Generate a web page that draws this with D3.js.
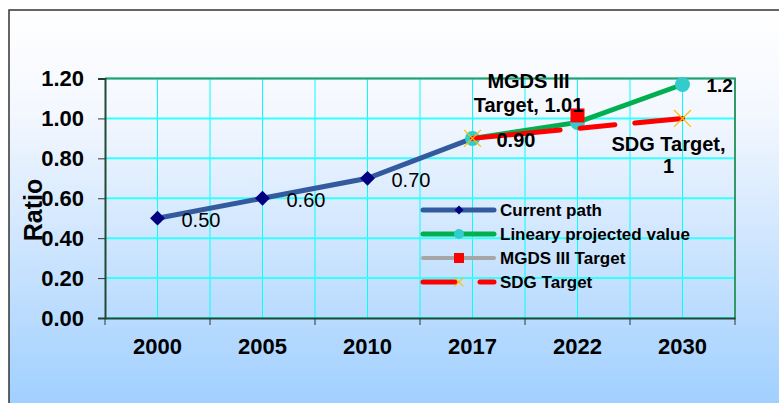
<!DOCTYPE html>
<html>
<head>
<meta charset="utf-8">
<script src="https://cdn.jsdelivr.net/npm/d3@7"></script>
<style>
  body { margin: 0; background: #fff; }
  svg { display: block; font-family: "Liberation Sans", Arial, sans-serif; }
</style>
</head>
<body>
<div id="chart"></div>
<script>
// chart values
var years = ["2000", "2005", "2010", "2017", "2022", "2030"];
var currentPath = [0.50, 0.60, 0.70, 0.90, null, null];
var projected = [null, null, null, 0.90, 0.98, 1.17];
var mgdsTarget = [null, null, null, null, 1.01, null];
var sdgTarget = [null, null, null, 0.90, null, 1.00];
var yTicks = [0, 0.2, 0.4, 0.6, 0.8, 1.0, 1.2];
var seriesNames = ["Current path", "Lineary projected value", "MGDS III Target", "SDG Target"];

var width = 779, height = 403;

var x = d3.scaleBand().domain(years).range([105, 735]).padding(0);
var y = d3.scaleLinear().domain([0, 1.2]).range([318, 78.5]);

var svg = d3.select("#chart").append("svg")
    .attr("width", width)
    .attr("height", height);

var defs = svg.append("defs");
var grad = defs.append("linearGradient")
    .attr("id", "bg").attr("x1", 0).attr("y1", 0).attr("x2", 0).attr("y2", 1);
grad.append("stop").attr("offset", "0%").attr("stop-color", "#ffffff");
grad.append("stop").attr("offset", "25%").attr("stop-color", "#f3f7fe");
grad.append("stop").attr("offset", "100%").attr("stop-color", "#99ccff");

// chart area with border
svg.append("rect")
    .attr("x", 9).attr("y", 10)
    .attr("width", 800).attr("height", 420)
    .attr("fill", "url(#bg)")
    .attr("stroke", "#333").attr("stroke-width", 1.5);

// vertical grid: band centres and edges
var vLines = [];
years.forEach(function (d) {
    vLines.push(x(d) + x.bandwidth() / 2);
    vLines.push(x(d) + x.bandwidth());
});
svg.append("g").selectAll("line")
    .data(vLines)
    .enter().append("line")
    .attr("x1", function (d) { return d; })
    .attr("x2", function (d) { return d; })
    .attr("y1", y(1.2)).attr("y2", y(0))
    .attr("stroke", "#00ffff").attr("stroke-width", 1);

// horizontal grid
svg.append("g").selectAll("line")
    .data(yTicks)
    .enter().append("line")
    .attr("x1", 105).attr("x2", 735)
    .attr("y1", function (d) { return y(d); })
    .attr("y2", function (d) { return y(d); })
    .attr("stroke", "#33ffff").attr("stroke-width", 2);

// plot border (top, right)
svg.append("path")
    .attr("d", "M105," + y(1.2) + "H735V" + y(0))
    .attr("fill", "none").attr("stroke", "#339966").attr("stroke-width", 2);

// axes
var yAxis = d3.axisLeft(y).tickValues(yTicks).tickFormat(d3.format(".2f")).tickSize(7).tickPadding(14);
var gy = svg.append("g").attr("transform", "translate(105,0)").call(yAxis);
gy.select(".domain").attr("stroke", "#1f4a33").attr("stroke-width", 2);
gy.selectAll(".tick line").attr("stroke", "#333");
gy.selectAll(".tick text")
    .attr("font-size", 22).attr("font-weight", "bold").attr("fill", "#000")
    .attr("font-family", "Liberation Sans, Arial, sans-serif");

var xAxis = d3.axisBottom(x).tickSize(0).tickPadding(20);
var gx = svg.append("g").attr("transform", "translate(0," + y(0) + ")").call(xAxis);
gx.select(".domain").attr("stroke", "#1f4a33").attr("stroke-width", 2);
gx.selectAll(".tick text")
    .attr("font-size", 22).attr("font-weight", "bold").attr("fill", "#000")
    .attr("font-family", "Liberation Sans, Arial, sans-serif");
// x tick marks at band edges
svg.append("g").selectAll("line")
    .data([years[0]].concat(years))
    .enter().append("line")
    .attr("x1", function (d, i) { return i == 0 ? x(d) : x(d) + x.bandwidth(); })
    .attr("x2", function (d, i) { return i == 0 ? x(d) : x(d) + x.bandwidth(); })
    .attr("y1", y(0)).attr("y2", y(0) + 7)
    .attr("stroke", "#333");

svg.append("text")
    .attr("transform", "translate(42,210) rotate(-90)")
    .attr("text-anchor", "middle")
    .attr("font-size", 25).attr("font-weight", "bold")
    .text("Ratio");

function cx(i) { return x(years[i]) + x.bandwidth() / 2; }

function pts(arr) {
    return arr.map(function (v, i) { return { i: i, v: v }; })
        .filter(function (d) { return d.v != null; });
}

var line = d3.line()
    .x(function (d) { return cx(d.i); })
    .y(function (d) { return y(d.v); });

// Current path
svg.append("path").datum(pts(currentPath))
    .attr("d", line).attr("fill", "none")
    .attr("stroke", "#335a9e").attr("stroke-width", 5).attr("stroke-linecap", "round");
svg.append("g").selectAll("path")
    .data(pts(currentPath))
    .enter().append("path")
    .attr("d", d3.symbol(d3.symbolSquare, 110))
    .attr("transform", function (d) { return "translate(" + cx(d.i) + "," + y(d.v) + ") rotate(45)"; })
    .attr("fill", "#000080");

// Lineary projected value
svg.append("path").datum(pts(projected))
    .attr("d", line).attr("fill", "none")
    .attr("stroke", "#00b050").attr("stroke-width", 5).attr("stroke-linecap", "round");
svg.append("g").selectAll("circle")
    .data(pts(projected))
    .enter().append("circle")
    .attr("cx", function (d) { return cx(d.i); })
    .attr("cy", function (d) { return y(d.v); })
    .attr("r", 7.5)
    .attr("fill", "#33cccc");

// MGDS III Target
svg.append("g").selectAll("rect")
    .data(pts(mgdsTarget))
    .enter().append("rect")
    .attr("x", function (d) { return cx(d.i) - 7; })
    .attr("y", function (d) { return y(d.v) - 8; })
    .attr("width", 14).attr("height", 14)
    .attr("fill", "#ff0000");

// SDG Target
svg.append("path").datum(pts(sdgTarget))
    .attr("d", line).attr("fill", "none")
    .attr("stroke", "#ff0000").attr("stroke-width", 5).attr("stroke-linecap", "round")
    .attr("stroke-dasharray", "88,20,35,20,60");
var xs = d3.symbol(d3.symbolX, 190);
svg.append("g").selectAll("path")
    .data(pts(sdgTarget))
    .enter().append("path")
    .attr("d", xs)
    .attr("transform", function (d) { return "translate(" + cx(d.i) + "," + y(d.v) + ")"; })
    .attr("fill", "none").attr("stroke", "#ffc000").attr("stroke-width", 1.3);

// data labels
var lbl = svg.append("g").attr("font-size", 20);
pts(currentPath).forEach(function (d) {
    lbl.append("text")
        .attr("x", cx(d.i) + 24).attr("y", y(d.v) + 9)
        .attr("font-weight", d.i == 3 ? "bold" : "normal")
        .text(d3.format(".2f")(d.v));
});
var pLast = pts(projected).slice(-1)[0];
lbl.append("text")
    .attr("x", cx(pLast.i) + 24).attr("y", y(pLast.v) + 8)
    .attr("font-size", 19).attr("font-weight", "bold")
    .text(d3.format(".1f")(pLast.v));

var m = pts(mgdsTarget)[0];
var mt = lbl.append("text").attr("font-weight", "bold").attr("text-anchor", "middle");
mt.append("tspan").attr("x", cx(m.i) - 49).attr("y", y(m.v) - 28).text("MGDS III");
mt.append("tspan").attr("x", cx(m.i) - 49).attr("y", y(m.v) - 4).text("Target, " + m.v);

var s = pts(sdgTarget).slice(-1)[0];
var st = lbl.append("text").attr("font-weight", "bold").attr("text-anchor", "middle");
st.append("tspan").attr("x", cx(s.i) - 14).attr("y", y(s.v) + 33).text("SDG Target,");
st.append("tspan").attr("x", cx(s.i) - 14).attr("y", y(s.v) + 55).text(s.v);

// legend
var leg = svg.append("g").attr("transform", "translate(423,210)");
seriesNames.forEach(function (name, i) {
    var row = leg.append("g").attr("transform", "translate(0," + (i * 24) + ")");
    if (i == 0) {
        row.append("line").attr("x1", 0).attr("x2", 71)
            .attr("stroke", "#335a9e").attr("stroke-width", 5).attr("stroke-linecap", "round");
        row.append("path").attr("d", d3.symbol(d3.symbolSquare, 40))
            .attr("transform", "translate(36,0) rotate(45)").attr("fill", "#000080");
    } else if (i == 1) {
        row.append("line").attr("x1", 0).attr("x2", 71)
            .attr("stroke", "#00b050").attr("stroke-width", 5).attr("stroke-linecap", "round");
        row.append("circle").attr("cx", 36).attr("r", 5).attr("fill", "#33cccc");
    } else if (i == 2) {
        row.append("line").attr("x1", 0).attr("x2", 71)
            .attr("stroke", "#a6a6a6").attr("stroke-width", 4).attr("stroke-linecap", "round");
        row.append("rect").attr("x", 31).attr("y", -5).attr("width", 10).attr("height", 10)
            .attr("fill", "#ff0000");
    } else {
        row.append("line").attr("x1", 0).attr("x2", 71)
            .attr("stroke", "#ff0000").attr("stroke-width", 5).attr("stroke-linecap", "round")
            .attr("stroke-dasharray", "32,25,14");
        row.append("path").attr("d", d3.symbol(d3.symbolX, 50))
            .attr("transform", "translate(36,0)")
            .attr("fill", "none").attr("stroke", "#ffc000").attr("stroke-width", 1.2);
    }
    row.append("text")
        .attr("x", 77).attr("y", 6)
        .attr("font-size", 17).attr("font-weight", "bold")
        .text(name);
});
</script>
</body>
</html>
